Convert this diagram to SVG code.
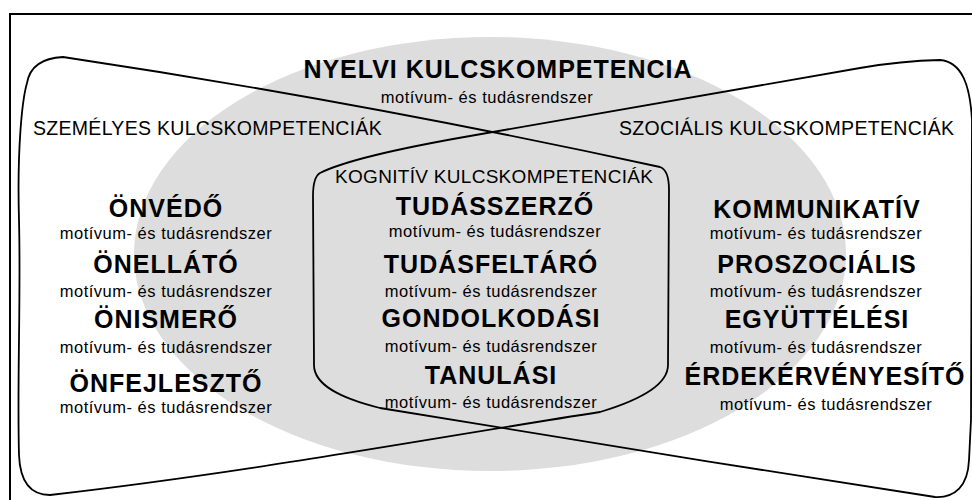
<svg xmlns="http://www.w3.org/2000/svg" width="972" height="500" viewBox="0 0 972 500">
<style>
text{font-family:"Liberation Sans",Arial,sans-serif;fill:#000}
.h{font-size:25px;font-weight:bold;letter-spacing:1px;text-anchor:middle}
.m{font-size:16.5px;letter-spacing:0.5px;text-anchor:middle}
.l{font-size:19.5px;letter-spacing:0.3px}
.line{fill:none;stroke:#000;stroke-width:1.8;stroke-linejoin:round}
</style>
<rect x="0" y="0" width="972" height="500" fill="#fff"/>
<rect id="frame" x="10" y="14" width="1000" height="600" fill="none" stroke="#000" stroke-width="2"/>
<g id="nyelvi">
<ellipse cx="490" cy="254" rx="356" ry="217" fill="#dddddd"/>
<text class="h" x="498" y="78">NYELVI KULCSKOMPETENCIA</text>
<text class="m" x="487" y="103">motívum- és tudásrendszer</text>
</g>
<g id="connectors">
<path id="szemelyes-shape" class="line" d="M63,57 Q361.5,101.8 660,167 C666,169 669,176 669,190 L668,365 C668,385 640,400 600,412 C420,440 250,472 50,495 C30,495 20,481 19,455 C17,380 21,300 19,220 C17,150 22,100 27,83 C30,66 42,58 63,57 Z"/>
<path id="szocialis-shape" class="line" d="M940,60 C915,60.5 880,64.5 860,68 L470,136 C420,144.7 350,158 320,173 C315,176 313,184 313,196 L314,365 C314,385 340,398 380,408 C520,432 760,470 935,497 C955,498 968,486 969,460 L971,420 C972,300 972,200 972,120 C970,85 962,62 940,60 Z"/>
</g>
<g id="szemelyes">
<text class="l" x="33" y="135">SZEMÉLYES KULCSKOMPETENCIÁK</text>
<text class="h" x="166" y="217">ÖNVÉDŐ</text>
<text class="m" x="166" y="239">motívum- és tudásrendszer</text>
<text class="h" x="166" y="273">ÖNELLÁTÓ</text>
<text class="m" x="166" y="297">motívum- és tudásrendszer</text>
<text class="h" x="166" y="328">ÖNISMERŐ</text>
<text class="m" x="166" y="353">motívum- és tudásrendszer</text>
<text class="h" x="166" y="392">ÖNFEJLESZTŐ</text>
<text class="m" x="166" y="413">motívum- és tudásrendszer</text>
</g>
<g id="kognitiv">
<text class="l" x="335" y="183" style="font-size:19px">KOGNITÍV KULCSKOMPETENCIÁK</text>
<text class="h" x="495" y="215">TUDÁSSZERZŐ</text>
<text class="m" x="495" y="237">motívum- és tudásrendszer</text>
<text class="h" x="491" y="273">TUDÁSFELTÁRÓ</text>
<text class="m" x="491" y="297">motívum- és tudásrendszer</text>
<text class="h" x="491" y="327">GONDOLKODÁSI</text>
<text class="m" x="491" y="352">motívum- és tudásrendszer</text>
<text class="h" x="491" y="384">TANULÁSI</text>
<text class="m" x="491" y="408">motívum- és tudásrendszer</text>
</g>
<g id="szocialis">
<text class="l" x="619" y="135">SZOCIÁLIS KULCSKOMPETENCIÁK</text>
<text class="h" x="817" y="218">KOMMUNIKATÍV</text>
<text class="m" x="816" y="239">motívum- és tudásrendszer</text>
<text class="h" x="817" y="273">PROSZOCIÁLIS</text>
<text class="m" x="816" y="297">motívum- és tudásrendszer</text>
<text class="h" x="817" y="328">EGYÜTTÉLÉSI</text>
<text class="m" x="816" y="353">motívum- és tudásrendszer</text>
<text class="h" x="825" y="385">ÉRDEKÉRVÉNYESÍTŐ</text>
<text class="m" x="826" y="410">motívum- és tudásrendszer</text>
</g>
</svg>
